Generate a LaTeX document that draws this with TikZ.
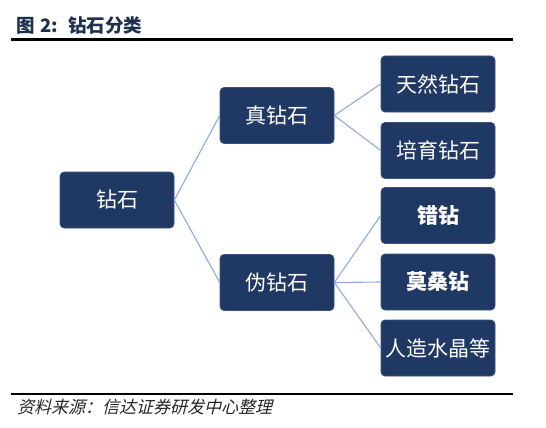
\documentclass[tikz,border=0pt]{standalone}
\usepackage{fontspec}
\setmainfont{Noto Sans CJK SC}
\newfontfamily\cjkslant{Noto Sans CJK SC}[FakeSlant=0.25]
\definecolor{navy}{HTML}{203864}
\definecolor{navyedge}{HTML}{3B5283}
\definecolor{linkc}{HTML}{8FAADC}
\definecolor{titlec}{HTML}{1F2F4F}
\tikzset{
  box/.style={rectangle, rounded corners=4pt, fill=navy, draw=navyedge, line width=0.6pt,
    minimum width=114pt, minimum height=56pt, inner sep=0pt, text=white,
    font=\fontsize{21}{25}\selectfont},
  boldbox/.style={box, font=\fontsize{21}{25}\selectfont\bfseries},
  link/.style={draw=linkc, line width=1.1pt},
  rule/.style={line width=2.2pt, black}
}
\begin{document}
\begin{tikzpicture}[x=1pt,y=-1pt]
\useasboundingbox (0,0) rectangle (546,428);
% title
\node[anchor=west, inner sep=0pt, text=titlec, font=\fontsize{18.5}{22}\selectfont\bfseries] (title) at (16,25) {图\hspace{0.3em}2:\hspace{0.55em}钻石分类};
\coordinate (r1a) at (11,39.5);
\coordinate (r1b) at (513,39.5);
\draw[rule] (r1a) -- (r1b);
% nodes
\node[box] (root) at (117,200) {钻石};
\node[box] (real) at (277,115.5) {真钻石};
\node[box] (fake) at (277,282.5) {伪钻石};
\node[box] (n1) at (438,84) {天然钻石};
\node[box] (n2) at (438,150.5) {培育钻石};
\node[boldbox] (f1) at (438,215.5) {错钻};
\node[boldbox] (f2) at (438,282) {莫桑钻};
\node[box] (f3) at (438,348) {人造水晶等};
% links
\draw[link] (root.east) -- (real.west);
\draw[link] (root.east) -- (fake.west);
\draw[link] (real.east) -- (n1.west);
\draw[link] (real.east) -- (n2.west);
\draw[link] (fake.east) -- (f1.west);
\draw[link] (fake.east) -- (f2.west);
\draw[link] (fake.east) -- (f3.west);
% bottom rule and source
\coordinate (r2a) at (11,394);
\coordinate (r2b) at (513,394);
\draw[rule] (r2a) -- (r2b);
\node[anchor=west, inner sep=0pt, text=black!85, font=\cjkslant\fontsize{17}{20}\selectfont] (src) at (17,407) {资料来源：信达证券研发中心整理};
\end{tikzpicture}
\end{document}
